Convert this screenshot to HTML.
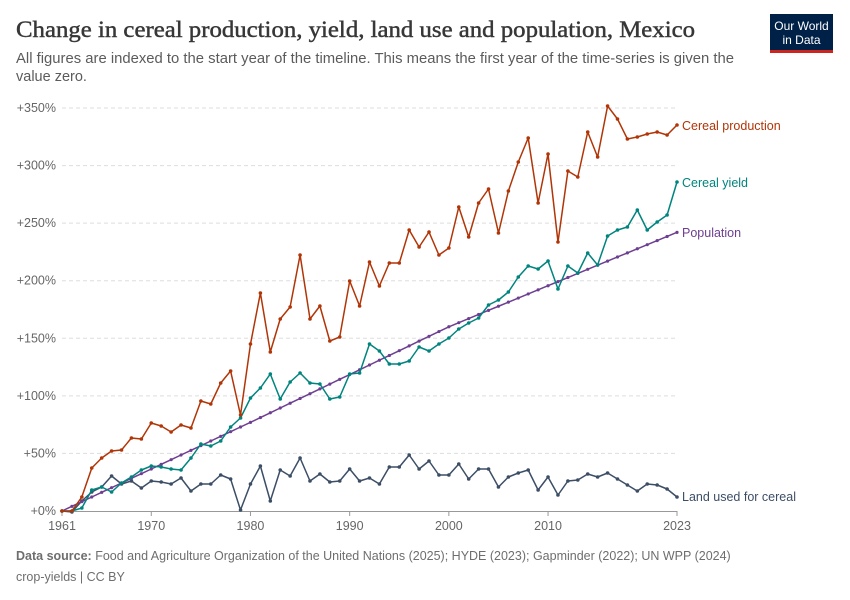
<!DOCTYPE html>
<html><head><meta charset="utf-8"><style>
body{margin:0;background:#fff;width:850px;height:600px;overflow:hidden;font-family:"Liberation Sans",sans-serif;}
svg{position:absolute;left:0;top:0}
</style></head><body>
<svg id="s" width="850" height="600" xmlns="http://www.w3.org/2000/svg">
<text x="16" y="37" font-family="Liberation Serif,serif" font-size="23" fill="#373737" stroke="#373737" stroke-width="0.45" textLength="679" lengthAdjust="spacingAndGlyphs">Change in cereal production, yield, land use and population, Mexico</text>
<text x="16" y="63" font-size="14.5" fill="#5b5b5b" textLength="718" lengthAdjust="spacingAndGlyphs">All figures are indexed to the start year of the timeline. This means the first year of the time-series is given the</text>
<text x="16" y="81" font-size="14.5" fill="#5b5b5b">value zero.</text>
<rect x="770" y="14" width="63" height="36" fill="#002147"/>
<rect x="770" y="50" width="63" height="3" fill="#ce261e"/>
<text x="801.5" y="30" font-size="12" fill="#fff" text-anchor="middle">Our World</text>
<text x="801.5" y="44" font-size="12" fill="#fff" text-anchor="middle">in Data</text>
<g id="grid"></g>
<g id="lines"></g>
<text x="16" y="560" font-size="12.5" fill="#6e6e6e"><tspan font-weight="bold">Data source:</tspan> Food and Agriculture Organization of the United Nations (2025); HYDE (2023); Gapminder (2022); UN WPP (2024)</text>
<text x="16" y="581" font-size="12.5" fill="#6e6e6e">crop-yields | CC BY</text>
</svg>
<script>
var NS="http://www.w3.org/2000/svg";
function el(t,a,p,txt){var e=document.createElementNS(NS,t);for(var k in a)e.setAttribute(k,a[k]);if(txt)e.textContent=txt;(p||document.getElementById('s')).appendChild(e);return e;}
var g=document.getElementById('grid'),L=document.getElementById('lines');
var labs=["+0%","+50%","+100%","+150%","+200%","+250%","+300%","+350%"];
for(var i=0;i<8;i++){var y=511-i*57.57;
 if(i>0)el('line',{x1:62,x2:677,y1:y,y2:y,stroke:'#dddddd','stroke-dasharray':'4,3'},g);
 el('text',{x:56,y:y+4,'font-size':12.5,fill:'#666','text-anchor':'end'},g,labs[i]);}
el('line',{x1:62,x2:677,y1:511.5,y2:511.5,stroke:'#999'},g);
function X(yr){return 62+(yr-1961)*615/62;}
[1961,1970,1980,1990,2000,2010,2023].forEach(function(yr){var x=X(yr);
 el('line',{x1:x,x2:x,y1:511,y2:516,stroke:'#999'},g);
 el('text',{x:x,y:530,'font-size':12.5,fill:'#666','text-anchor':'middle'},g,String(yr));});
var prod=[511,511,497,468,458,451,450,438,439,423,426,432,425,428,401,404,383,371,415,344,293,352,319,307,255,319,306,341,337,281,306,262,286,263,263,230,247,232,255,248,207,237,203,189,233,191,162,138,203,154,242,171,177,132,157,106,119,139,137,134,132,135,125];
var yld=[511,511,508,490,487,492,483,477,470,466,467,469,470,458,444,446,441,427,418,398,388,374,399,382,373,383,384,399,397,374,373,344,351,364,364,361,347,351,344,338,329,323,318,305,300,292,277,266,269,261,289,266,273,253,265,236,230,227,210,230,222,215,182];
var land=[511,512,501,492,487,476,484,481,488,481,482,484,478,491,484,484,475,479,510,484,466,501,470,476,458,481,474,482,481,469,481,478,484,467,467,455,469,461,475,475,464,479,469,469,487,477,473,470,490,477,495,481,480,474,477,473,479,485,491,484,485,489,497];
var pop=[];var kp=[[0,0],[19,77],[39,160],[62,242]];
for(var t=0;t<=62;t++){var v;for(var j=0;j<3;j++){if(t<=kp[j+1][0]){var a=kp[j],b=kp[j+1];v=a[1]+(b[1]-a[1])*(t-a[0])/(b[0]-a[0]);break;}}pop.push(511-v*1.1514);}
function series(d,c,r){var pts=d.map(function(y,i){return X(1961+i).toFixed(1)+','+y;}).join(' ');
 el('polyline',{points:pts,fill:'none',stroke:c,'stroke-width':1.5,'stroke-linejoin':'round'},L);
 d.forEach(function(y,i){el('circle',{cx:X(1961+i),cy:y,r:r,fill:c},L);});}
series(land,'#3c4e66',1.8);
series(pop,'#6d3e91',1.6);
series(yld,'#00847e',1.8);
series(prod,'#b13507',1.8);
el('text',{x:682,y:130,'font-size':12.5,fill:'#b13507'},L,'Cereal production');
el('text',{x:682,y:187,'font-size':12.5,fill:'#00847e'},L,'Cereal yield');
el('text',{x:682,y:237,'font-size':12.5,fill:'#6d3e91'},L,'Population');
el('text',{x:682,y:501,'font-size':12.5,fill:'#3c4e66'},L,'Land used for cereal');
</script>
</body></html>
